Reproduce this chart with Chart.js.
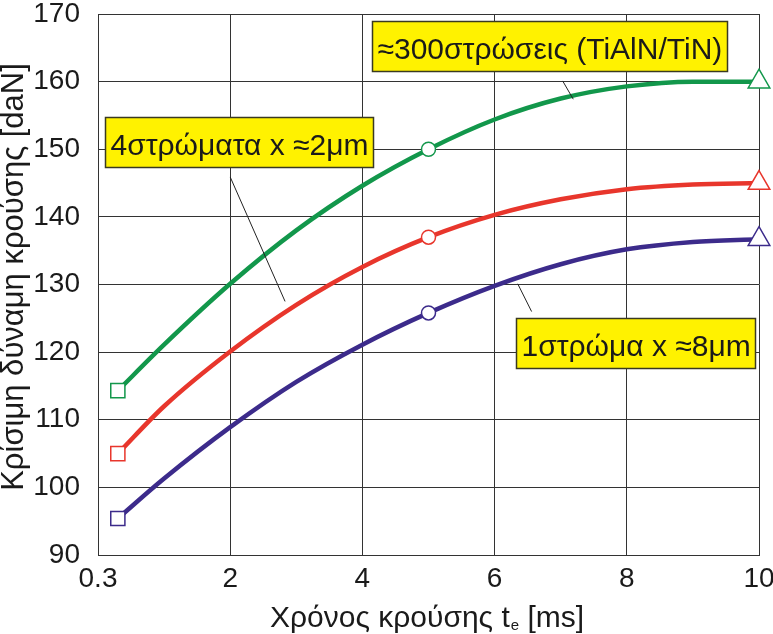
<!DOCTYPE html>
<html>
<head>
<meta charset="utf-8">
<script src="https://cdn.jsdelivr.net/npm/chart.js@4.4.0/dist/chart.umd.min.js"></script>
<style>
  html, body { margin: 0; padding: 0; background: #fff; }
  #wrap { width: 773px; height: 634px; }
</style>
</head>
<body>
<div id="wrap"><canvas id="c" width="773" height="634"></canvas></div>
<script>
// Values
const xCurve = [0.3, 1, 2, 3, 4, 5, 6, 7, 8, 9, 10];
const greenVals = [114.3, 121.1, 130.1, 138, 144.6, 150, 154.4, 157.5, 159.3, 160, 160];
const redVals = [105, 112, 120.1, 127, 132.6, 137, 140.3, 142.6, 144.1, 144.8, 145];
const purpleVals = [95.4, 101.3, 108.9, 115.6, 121.1, 125.8, 129.8, 133, 135.2, 136.3, 136.7];

const markerX = [0.3, 5, 10];
const markerStyles = ['rect', 'circle', 'triangle'];
const markerRadii = [10, 7, 12.5];

const xTicks = [0, 2, 4, 6, 8, 10];
const xTickLabels = ['0.3', '2', '4', '6', '8', '10'];

const yTitle = 'Κρίσιμη δύναμη κρούσης [daN]';
const xTitle = 'Χρόνος κρούσης t';
const xTitleSub = 'e';
const xTitleEnd = ' [ms]';

// annotation boxes: text, anchor (left/top, data units), leader line (data units)
const notes = [
  { text: '≈300στρώσεις (TiAlN/TiN)', x: 4.15, y: 169.0, line: [7.03, 160.1, 7.19, 157.4] },
  { text: '4στρώματα x ≈2μm', x: 0.1, y: 154.7, line: [2.0, 145.9, 2.83, 127.5] },
  { text: '1στρώμα x ≈8μm', x: 6.33, y: 125.0, line: [6.35, 130.1, 6.56, 126.0] },
];

const GREEN = '#12974b';
const RED = '#e8362c';
const PURPLE = '#3c2b8b';
const FONT = '"Liberation Sans", Arial, sans-serif';

function curve(vals, color) {
  return {
    data: xCurve.map((x, i) => ({ x, y: vals[i] })),
    borderColor: color,
    borderWidth: 4.5,
    pointRadius: 0,
    showLine: true,
    fill: false,
    cubicInterpolationMode: 'monotone',
    order: 2,
  };
}

function markers(vals, color) {
  return {
    data: markerX.map(x => ({ x, y: vals[xCurve.indexOf(x)] })),
    showLine: false,
    pointStyle: markerStyles,
    pointRadius: markerRadii,
    pointBorderColor: color,
    pointBackgroundColor: '#fff',
    pointBorderWidth: 1.5,
    clip: false,
    order: 1,
  };
}

const decor = {
  id: 'decor',
  afterDatasetsDraw(chart) {
    const { ctx, scales: { x, y } } = chart;
    ctx.save();
    // leader lines
    ctx.strokeStyle = '#222';
    ctx.lineWidth = 1;
    notes.forEach(n => {
      const [x1, y1, x2, y2] = n.line;
      ctx.beginPath();
      ctx.moveTo(x.getPixelForValue(x1), y.getPixelForValue(y1));
      ctx.lineTo(x.getPixelForValue(x2), y.getPixelForValue(y2));
      ctx.stroke();
    });
    // yellow boxes
    ctx.font = '30px ' + FONT;
    notes.forEach(n => {
      const left = Math.round(x.getPixelForValue(n.x)) + 0.5;
      const top = Math.round(y.getPixelForValue(n.y)) + 0.5;
      const w = Math.round(ctx.measureText(n.text).width) + 10;
      const h = 50;
      ctx.fillStyle = '#fff200';
      ctx.fillRect(left, top, w, h);
      ctx.strokeStyle = '#3a3a20';
      ctx.lineWidth = 1.5;
      ctx.strokeRect(left, top, w, h);
      ctx.fillStyle = '#1a1a1a';
      ctx.textBaseline = 'alphabetic';
      ctx.textAlign = 'left';
      ctx.fillText(n.text, left + 5, top + 37);
    });
    // axis titles
    ctx.fillStyle = '#1a1a1a';
    ctx.save();
    ctx.translate(23, 277);
    ctx.rotate(-Math.PI / 2);
    ctx.font = '31px ' + FONT;
    ctx.textAlign = 'center';
    ctx.fillText(yTitle, 0, 0);
    ctx.restore();

    ctx.font = '30px ' + FONT;
    ctx.textAlign = 'left';
    let tx = 270;
    const ty = 627;
    ctx.fillText(xTitle, tx, ty);
    tx += ctx.measureText(xTitle).width;
    ctx.font = '15px ' + FONT;
    ctx.fillText(xTitleSub, tx + 1, ty + 3);
    tx += ctx.measureText(xTitleSub).width + 1;
    ctx.font = '30px ' + FONT;
    ctx.fillText(xTitleEnd, tx, ty);
    ctx.restore();
  }
};

new Chart(document.getElementById('c'), {
  type: 'scatter',
  data: {
    datasets: [
      curve(greenVals, GREEN),
      curve(redVals, RED),
      curve(purpleVals, PURPLE),
      markers(greenVals, GREEN),
      markers(redVals, RED),
      markers(purpleVals, PURPLE),
    ],
  },
  options: {
    responsive: false,
    animation: false,
    events: [],
    layout: { padding: { top: 11, right: 14, left: 0, bottom: 0 } },
    plugins: { legend: { display: false }, tooltip: { enabled: false } },
    scales: {
      x: {
        type: 'linear',
        min: 0,
        max: 10,
        afterBuildTicks(scale) { scale.ticks = xTicks.map(v => ({ value: v })); },
        afterFit(scale) { scale.height = 79; scale.paddingLeft = 0; scale.paddingRight = 0; },
        grid: { color: '#333', lineWidth: 1, drawTicks: false },
        border: { color: '#333', width: 1 },
        ticks: {
          padding: 7,
          color: '#1a1a1a',
          font: { family: FONT, size: 28 },
          maxRotation: 0,
          callback: (v) => xTickLabels[xTicks.indexOf(v)],
        },
      },
      y: {
        min: 90,
        max: 170,
        afterFit(scale) { scale.width = 98; scale.paddingTop = 0; scale.paddingBottom = 0; },
        grid: { color: '#333', lineWidth: 1, drawTicks: false },
        border: { color: '#333', width: 1 },
        ticks: {
          stepSize: 10,
          padding: 18,
          color: '#1a1a1a',
          font: { family: FONT, size: 28 },
        },
      },
    },
  },
  plugins: [decor],
});
</script>
</body>
</html>
